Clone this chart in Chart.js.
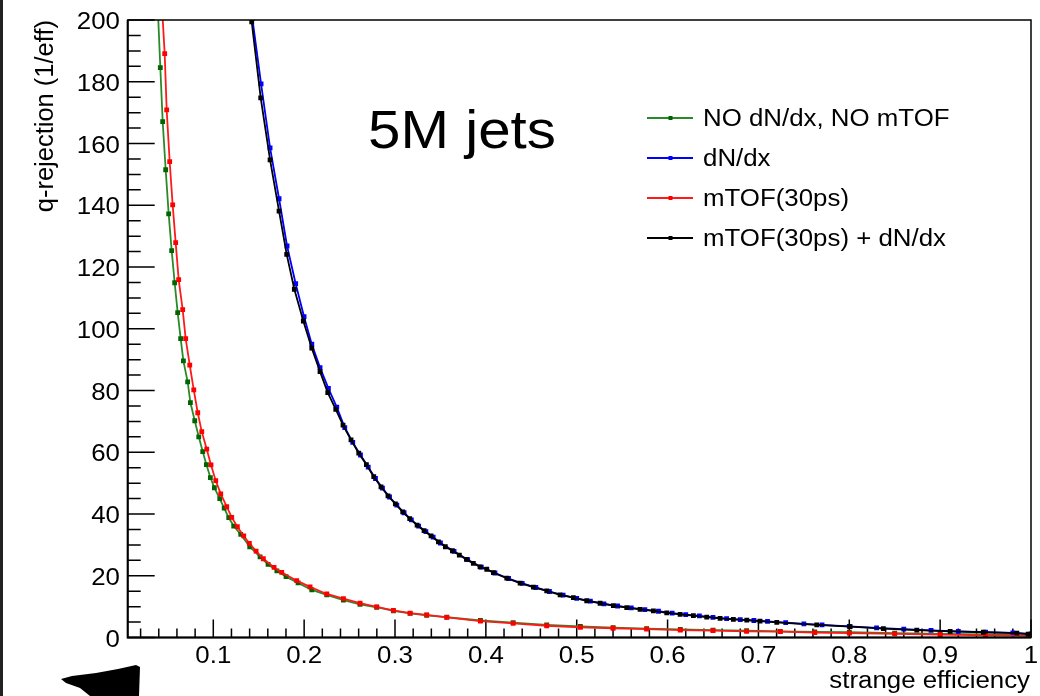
<!DOCTYPE html>
<html>
<head>
<meta charset="utf-8">
<script src="https://cdn.jsdelivr.net/npm/chart.js@4.4.1/dist/chart.umd.min.js"></script>
<style>
  html, body { margin: 0; padding: 0; background: #fff; }
  canvas { display: block; }
</style>
</head>
<body>
<canvas id="plot" width="1040" height="696"></canvas>
<script>
// --- values (strange efficiency vs q-rejection) ---
const greenEff = [0.0392, 0.0417, 0.0443, 0.0476, 0.0509, 0.0542, 0.0575, 0.0608, 0.0641, 0.0671,
  0.0718, 0.0748, 0.0796, 0.0840, 0.0884, 0.0924, 0.0968, 0.1012, 0.1071, 0.1120, 0.1170, 0.1225,
  0.1302, 0.1401, 0.1515, 0.1603, 0.1700, 0.1801, 0.1933, 0.2084, 0.2249, 0.2432, 0.2615, 0.2799,
  0.2982, 0.3166, 0.3349, 0.3570, 0.3940, 0.4300, 0.4670, 0.5040, 0.5400, 0.5770, 0.6140, 0.6500,
  0.6870, 0.7240, 0.7620, 0.8000, 0.8500, 0.9000, 0.9500, 1.0000];
const greenRej = [202, 184.6, 167.1, 151.5, 137.2, 125.3, 114.9, 105.2, 96.8, 89.6,
  82.8, 76.1, 70.2, 65.0, 60.2, 56.0, 51.8, 48.5, 45.0, 41.9, 38.8, 36.1,
  33.4, 29.4, 26.1, 23.7, 21.6, 19.7, 17.7, 15.4, 13.8, 12.1, 10.7, 9.8,
  8.6, 7.8, 7.2, 6.6, 5.5, 4.8, 4.1, 3.6, 3.2, 2.9, 2.6, 2.4,
  2.2, 2.0, 1.85, 1.7, 1.4, 1.2, 1.0, 0.7];

const redEff = [0.0440, 0.0465, 0.0487, 0.0520, 0.0553, 0.0586, 0.0619, 0.0663, 0.0696, 0.0741,
  0.0785, 0.0829, 0.0873, 0.0928, 0.0975, 0.1027, 0.1082, 0.1148, 0.1203, 0.1265, 0.1335, 0.1397,
  0.1471, 0.1551, 0.1669, 0.1753, 0.1918, 0.2065, 0.2249, 0.2432, 0.2615, 0.2799, 0.2982, 0.3166,
  0.3349, 0.3570, 0.3940, 0.4300, 0.4670, 0.5040, 0.5400, 0.5770, 0.6140, 0.6500, 0.6870, 0.7240,
  0.7620, 0.8000, 0.8500, 0.9000, 0.9500, 1.0000];
const redRej = [202, 189.1, 170.9, 154.1, 140.1, 127.9, 115.9, 106.2, 96.8, 88.2,
  80.2, 72.8, 66.7, 61.0, 55.9, 50.8, 46.5, 42.4, 38.9, 35.9, 32.9, 30.5,
  28.0, 25.5, 22.7, 21.1, 18.4, 16.4, 14.1, 12.6, 11.1, 9.9, 8.8, 7.9,
  7.3, 6.5, 5.3, 4.6, 3.8, 3.3, 3.0, 2.7, 2.4, 2.2, 2.0, 1.9,
  1.6, 1.4, 1.2, 0.9, 0.7, 0.5];

const blackEff = [0.1423, 0.1522, 0.1625, 0.1724, 0.1808, 0.1892, 0.1991, 0.2084, 0.2175, 0.2260,
  0.2348, 0.2428, 0.2516, 0.2601, 0.2685, 0.2766, 0.2846, 0.2923, 0.3004, 0.3085, 0.3162, 0.3243,
  0.3320, 0.3397, 0.3478, 0.3554, 0.3632, 0.3708, 0.3786, 0.3862, 0.3936, 0.4010, 0.4083, 0.4230,
  0.4377, 0.4523, 0.4670, 0.4817, 0.4963, 0.5110, 0.5257, 0.5403, 0.5551, 0.5697, 0.5844, 0.5991,
  0.6138, 0.6284, 0.6431, 0.6578, 0.6724, 0.6872, 0.7018, 0.7202, 0.7642, 0.8009, 0.8375, 0.8743,
  0.9110, 0.9476, 0.9844, 0.9968];
const blackRej = [199.4, 174.8, 154.7, 138.1, 124.1, 112.8, 102.5, 93.7, 86.1, 79.3,
  73.9, 68.8, 64.0, 59.7, 56.0, 52.1, 48.8, 45.9, 43.3, 40.7, 38.5, 36.4,
  34.6, 32.9, 31.0, 29.4, 28.1, 26.7, 25.3, 24.0, 22.9, 22.1, 21.0, 19.2,
  17.6, 16.3, 15.1, 13.8, 12.9, 11.9, 11.1, 10.3, 9.7, 9.1, 8.6, 8.0,
  7.5, 7.1, 6.6, 6.2, 5.9, 5.6, 5.3, 4.9, 4.1, 3.5, 2.9, 2.4,
  2.0, 1.7, 1.4, 1.1];

const blueEff = [0.1430, 0.1526, 0.1625, 0.1724, 0.1812, 0.1907, 0.1999, 0.2084, 0.2175, 0.2267,
  0.2359, 0.2447, 0.2535, 0.2620, 0.2705, 0.2785, 0.2862, 0.2940, 0.3020, 0.3100, 0.3180, 0.3260,
  0.3340, 0.3420, 0.3500, 0.3650, 0.3800, 0.3950, 0.4100, 0.4250, 0.4400, 0.4550, 0.4700, 0.4850,
  0.5000, 0.5150, 0.5300, 0.5450, 0.5600, 0.5750, 0.5900, 0.6050, 0.6200, 0.6350, 0.6500, 0.6650,
  0.6800, 0.6950, 0.7100, 0.7300, 0.7500, 0.7700, 0.8000, 0.8300, 0.8600, 0.8900, 0.9200, 0.9500,
  0.9800, 1.0000];
const blueRej = [200.5, 179.3, 158.6, 142.1, 126.8, 114.6, 103.9, 95.0, 87.4, 80.7,
  74.6, 68.0, 63.2, 59.1, 55.2, 51.5, 48.4, 45.5, 42.9, 40.4, 38.1, 36.1,
  34.3, 32.5, 30.6, 27.9, 25.2, 22.8, 20.9, 19.1, 17.5, 16.2, 14.9, 13.7,
  12.7, 11.8, 10.9, 10.2, 9.6, 9.0, 8.5, 7.9, 7.4, 7.0, 6.5, 6.1,
  5.8, 5.5, 5.2, 4.8, 4.4, 4.1, 3.6, 3.1, 2.7, 2.3, 2.0, 1.75,
  1.5, 1.15];

const legendLabels = ['NO dN/dx, NO mTOF', 'dN/dx', 'mTOF(30ps)', 'mTOF(30ps) + dN/dx'];
const xTicks = [0.1, 0.2, 0.3, 0.4, 0.5, 0.6, 0.7, 0.8, 0.9, 1.0];
const xTickLabels = ['0.1', '0.2', '0.3', '0.4', '0.5', '0.6', '0.7', '0.8', '0.9', '1'];
const yTicks = [0, 20, 40, 60, 80, 100, 120, 140, 160, 180, 200];
const yTickLabels = ['0', '20', '40', '60', '80', '100', '120', '140', '160', '180', '200'];

const FONT = '"Liberation Sans", Arial, Helvetica, sans-serif';
const SX = 1.1; // the picture is a bit wider than tall, text is stretched

const colors = [
  { line: '#2a8a2a', mark: '#006400' },
  { line: '#0000ff', mark: '#0000ff' },
  { line: '#ff1a1a', mark: '#ff0000' },
  { line: '#000000', mark: '#000000' }
];

function series(label, xs, ys, c, order) {
  return {
    label,
    data: xs.map((x, i) => ({ x, y: ys[i] })),
    showLine: true,
    borderColor: c.line,
    borderWidth: 1.8,
    pointStyle: 'rect',
    pointRadius: 3.4,
    pointBorderWidth: 0,
    pointBackgroundColor: c.mark,
    pointHoverRadius: 0,
    order
  };
}

function text(ctx, str, x, y, align, size, sx) {
  ctx.save();
  ctx.translate(x, y);
  ctx.scale(sx, 1);
  ctx.font = size + 'px ' + FONT;
  ctx.textAlign = align;
  ctx.textBaseline = 'alphabetic';
  ctx.fillStyle = '#000';
  ctx.fillText(str, 0, 0);
  ctx.restore();
}

const rootLook = {
  id: 'rootLook',
  beforeDatasetsDraw(chart) {
    const { ctx, chartArea: a, scales: { x, y } } = chart;
    ctx.save();
    ctx.strokeStyle = '#000';
    ctx.lineWidth = 1.5;
    ctx.beginPath();
    for (let v = 0; v <= 200; v += 5) {
      const p = y.getPixelForValue(v);
      ctx.moveTo(a.left, p);
      ctx.lineTo(a.left + (v % 20 === 0 ? 27 : 13), p);
    }
    for (let k = 1; k <= 50; k++) {
      const v = k * 0.02;
      const p = x.getPixelForValue(v);
      ctx.moveTo(p, a.bottom);
      ctx.lineTo(p, a.bottom - (k % 5 === 0 ? 18 : 9));
    }
    ctx.stroke();
    ctx.restore();
  },
  afterDraw(chart) {
    const { ctx, chartArea: a, scales: { x, y } } = chart;
    ctx.save();

    // frame
    ctx.strokeStyle = '#000';
    ctx.lineWidth = 1.5;
    ctx.strokeRect(a.left, a.top, a.right - a.left, a.bottom - a.top);
    ctx.lineWidth = 2;
    ctx.beginPath();
    ctx.moveTo(a.left, a.top); ctx.lineTo(a.left, a.bottom); ctx.lineTo(a.right, a.bottom);
    ctx.stroke();

    // tick labels
    yTicks.forEach((v, i) => text(ctx, yTickLabels[i], 120, y.getPixelForValue(v) + 9, 'right', 23.5, SX));
    xTicks.forEach((v, i) => text(ctx, xTickLabels[i], x.getPixelForValue(v), 663, 'center', 23.5, SX));

    // axis titles
    text(ctx, 'strange efficiency', 1030, 688, 'right', 23.5, SX);
    ctx.save();
    ctx.translate(53, a.top);
    ctx.rotate(-Math.PI / 2);
    ctx.font = '25.5px ' + FONT;
    ctx.textAlign = 'right';
    ctx.fillStyle = '#000';
    ctx.fillText('q-rejection (1/eff)', 0, 0);
    ctx.restore();

    // big label
    text(ctx, '5M jets', 368, 148, 'left', 53, SX);

    // legend
    const rows = [118, 158, 198, 238];
    legendLabels.forEach((lab, i) => {
      const c = colors[i];
      ctx.strokeStyle = c.line;
      ctx.lineWidth = 1.8;
      ctx.beginPath();
      ctx.moveTo(647, rows[i]);
      ctx.lineTo(693, rows[i]);
      ctx.stroke();
      ctx.fillStyle = c.mark;
      ctx.fillRect(668.5, rows[i] - 2, 4, 4);
      text(ctx, lab, 703, rows[i] + 8, 'left', 23.5, SX);
    });

    // scribble below the axis and the canvas edge
    ctx.fillStyle = '#000';
    ctx.beginPath();
    [[61, 679], [72, 676], [96, 673], [118, 669], [136, 665], [140, 667], [139, 696],
     [90, 696], [80, 688], [66, 683]].forEach(([px, py], i) => i ? ctx.lineTo(px, py) : ctx.moveTo(px, py));
    ctx.closePath();
    ctx.fill();
    ctx.fillStyle = '#222';
    ctx.fillRect(0, 0, 3, 696);

    ctx.restore();
  }
};

new Chart(document.getElementById('plot'), {
  type: 'scatter',
  data: {
    datasets: [
      series(legendLabels[0], greenEff, greenRej, colors[0], 3),
      series(legendLabels[1], blueEff, blueRej, colors[1], 2),
      series(legendLabels[2], redEff, redRej, colors[2], 1),
      series(legendLabels[3], blackEff, blackRej, colors[3], 0)
    ]
  },
  options: {
    responsive: false,
    animation: false,
    events: [],
    layout: { padding: { top: 20, right: 9, left: 0, bottom: 0 } },
    plugins: { legend: { display: false }, tooltip: { enabled: false } },
    scales: {
      x: {
        type: 'linear',
        min: 0.0058,
        max: 1,
        grid: { display: false },
        border: { display: false },
        ticks: { display: false },
        afterBuildTicks: s => { s.ticks = xTicks.map(v => ({ value: v })); },
        afterFit: s => { s.height = 58.5; }
      },
      y: {
        type: 'linear',
        min: 0,
        max: 200,
        grid: { display: false },
        border: { display: false },
        ticks: { display: false },
        afterBuildTicks: s => { s.ticks = yTicks.map(v => ({ value: v })); },
        afterFit: s => { s.width = 127.7; }
      }
    }
  },
  plugins: [rootLook]
});
</script>
</body>
</html>
